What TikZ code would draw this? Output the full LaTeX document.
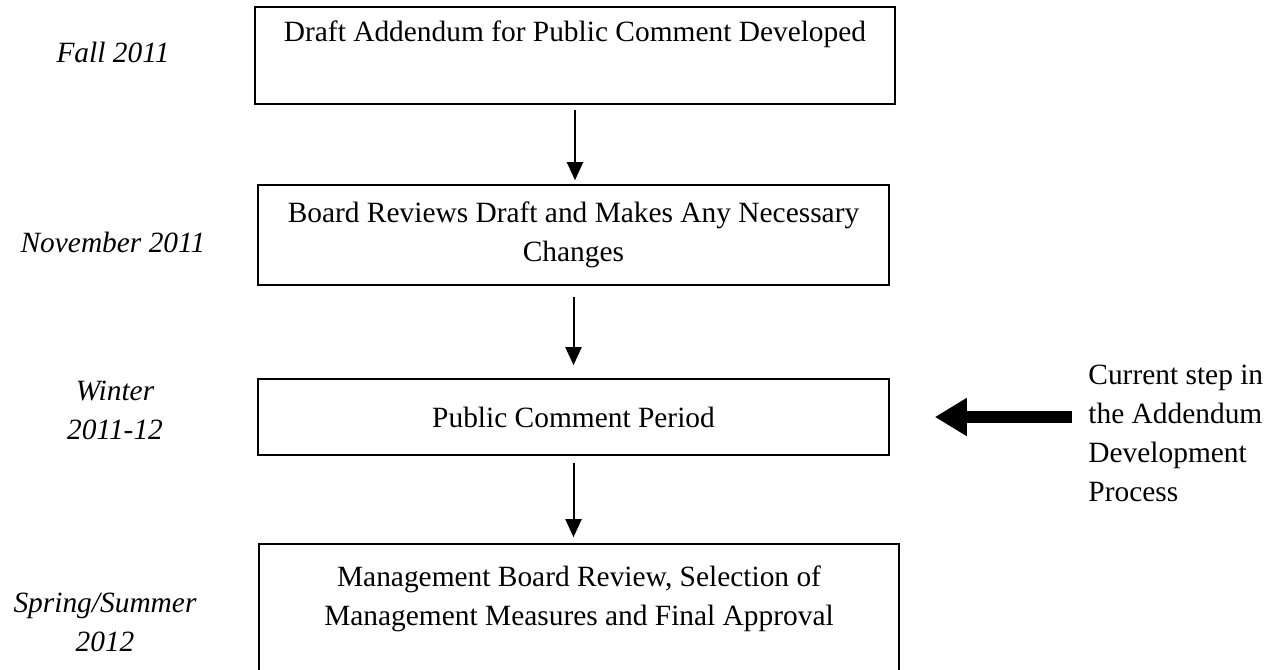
\documentclass[tikz,border=0pt]{standalone}
\usepackage{fontspec}
\setmainfont{Liberation Serif}
\usetikzlibrary{arrows.meta}

\begin{document}
\begin{tikzpicture}[x=0.5pt,y=-0.5pt,
                    font=\fontsize{14.7}{19.5}\selectfont,
                    stage box/.style={draw,line width=0.8pt,inner sep=0pt,align=center},
                    date label/.style={font=\fontsize{14.7}{19.5}\selectfont\itshape,align=center,inner sep=0pt},
                    flow/.style={line width=1pt,-{Triangle[width=8pt,length=9pt]}},
                    big arrow/.style={line width=6pt,-{Triangle[width=18pt,length=16pt]}}]

        \useasboundingbox (0,0) rectangle (1277,669);

        % Define stages
        \node[stage box,minimum width=320pt,minimum height=48.5pt] (draft) at (575,55.5)
            {Draft Addendum for Public Comment Developed\\[5pt] \mbox{}};
        \node[stage box,minimum width=315.5pt,minimum height=50pt] (board) at (573.5,235)
            {Board Reviews Draft and Makes Any Necessary\\ Changes};
        \node[stage box,minimum width=315.5pt,minimum height=38pt] (comment) at (573.5,417)
            {Public Comment Period};
        \node[stage box,minimum width=320pt,minimum height=71pt] (approval) at (579,615)
            {Management Board Review, Selection of\\ Management Measures and Final Approval\\ \mbox{}};

        % Dates
        \node[date label] (fall) at (113,52) {Fall 2011};
        \node[date label] (nov) at (113,242) {November 2011};
        \node[date label] (winter) at (115,410) {Winter\\ 2011-12};
        \node[date label] (spring) at (105,622) {Spring/Summer\\ 2012};

        % Note
        \node[align=left,inner sep=0pt,anchor=west] (note) at (1088,433)
            {Current step in\\ the Addendum\\ Development\\ Process};

        % Connectors
        \draw[flow,shorten <=2.5pt,shorten >=2pt] (draft.south) -- (draft.south |- board.north);
        \draw[flow,shorten <=5.5pt,shorten >=6.5pt] (board.south) -- (board.south |- comment.north);
        \draw[flow,shorten <=3.5pt,shorten >=3pt] (comment.south) -- (comment.south |- approval.north);
        \draw[big arrow,shorten <=8pt,shorten >=22.5pt] (note.west |- comment.east) -- (comment.east);
        \end{tikzpicture}
\end{document}
